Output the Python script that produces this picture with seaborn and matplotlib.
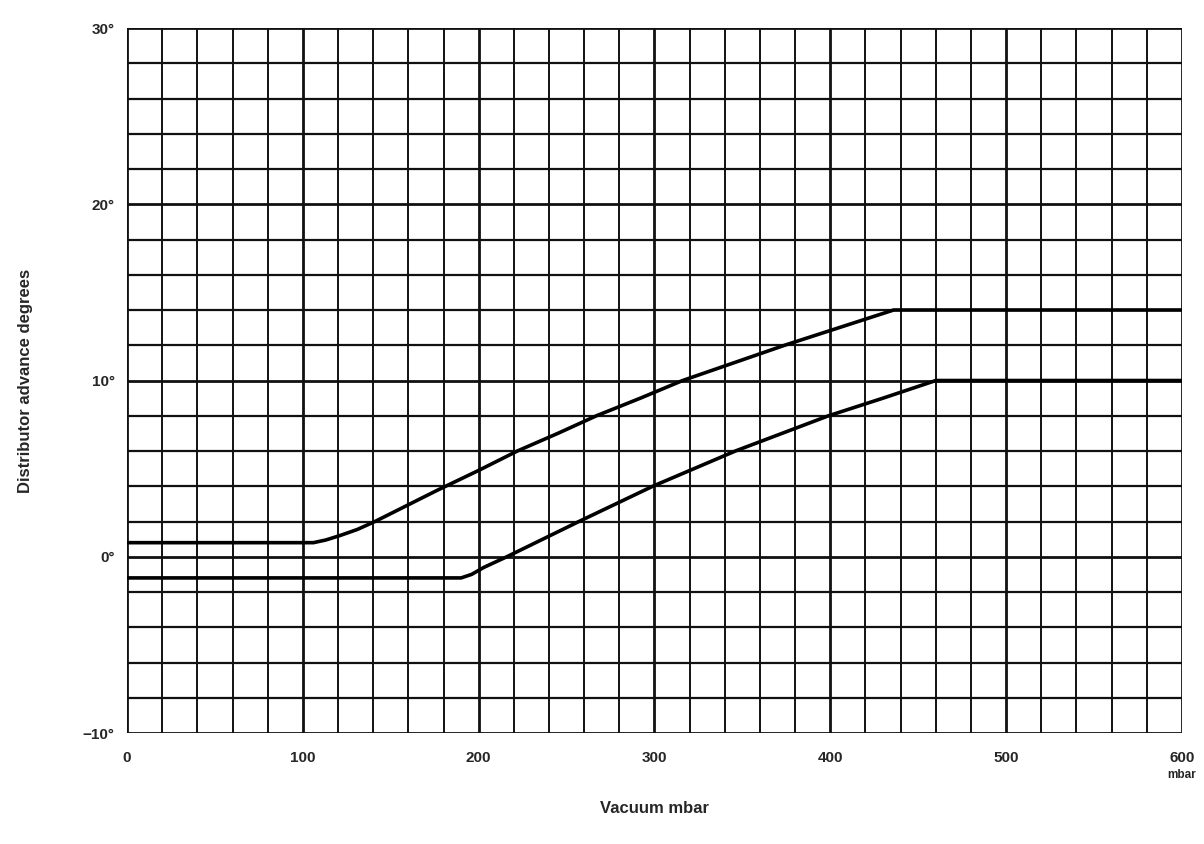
import numpy as np
import pandas as pd
import matplotlib
matplotlib.use("Agg")
import matplotlib.pyplot as plt
import seaborn as sns

# Vacuum advance curves (mbar vs. degrees)
upper_vacuum = [0, 106, 113, 121, 131, 141, 158, 176, 200, 222, 245, 267, 292, 316, 345, 374, 405, 436, 600]
upper_advance = [0.8, 0.8, 0.95, 1.2, 1.55, 2.0, 2.85, 3.75, 4.9, 6.0, 7.0, 8.0, 9.0, 10.0, 11.0, 12.0, 13.0, 14.0, 14.0]

lower_vacuum = [0, 190, 196, 203, 216, 257, 299, 346, 399, 430, 460, 600]
lower_advance = [-1.2, -1.2, -1.0, -0.6, 0.0, 2.0, 4.0, 6.0, 8.0, 9.0, 10.0, 10.0]

x_ticks = [0, 100, 200, 300, 400, 500, 600]
x_tick_labels = ["0", "100", "200", "300", "400", "500", "600"]
y_ticks = [-10, 0, 10, 20, 30]
y_tick_labels = ["\u221210\u00b0", "0\u00b0", "10\u00b0", "20\u00b0", "30\u00b0"]

df = pd.concat([
    pd.DataFrame({"vacuum": upper_vacuum, "advance": upper_advance, "curve": "upper"}),
    pd.DataFrame({"vacuum": lower_vacuum, "advance": lower_advance, "curve": "lower"}),
], ignore_index=True)

sns.set_style("white")
plt.rcParams["font.family"] = ["Liberation Sans", "DejaVu Sans"]

fig = plt.figure(figsize=(12.04, 8.44), dpi=100)
ax = fig.add_axes([0.1055, 0.1315, 0.8762, 0.8353])

ax.set_xlim(0, 600)
ax.set_ylim(-10, 30)

# graph-paper grid
for xv in np.arange(0, 601, 20):
    lw = 2.0 if xv % 100 == 0 else 1.4
    ax.axvline(xv, color="#111111", lw=lw, zorder=1)
for yv in np.arange(-10, 31, 2):
    lw = 2.0 if yv % 10 == 0 else 1.6
    ax.axhline(yv, color="#111111", lw=lw, zorder=1)

sns.lineplot(data=df, x="vacuum", y="advance", hue="curve",
             palette={"upper": "black", "lower": "black"},
             linewidth=2.6, legend=False, ax=ax, sort=False, zorder=3)

for s in ax.spines.values():
    s.set_visible(False)

ax.set_xticks(x_ticks)
ax.set_xticklabels(x_tick_labels)
ax.set_yticks(y_ticks)
ax.set_yticklabels(y_tick_labels)
ax.tick_params(axis="x", length=0, labelsize=11, pad=13)
ax.tick_params(axis="y", length=0, labelsize=11, pad=9)
for lab in ax.get_xticklabels() + ax.get_yticklabels():
    lab.set_fontweight("bold")

ax.text(600, -12.4, "mbar", ha="center", va="center", fontsize=8.5, fontweight="bold")

ax.set_xlabel("Vacuum mbar", fontsize=12, fontweight="bold", labelpad=26)
ax.set_ylabel("Distributor advance degrees", fontsize=12, fontweight="bold", labelpad=36)

fig.savefig("out.png", dpi=100, facecolor="white")
